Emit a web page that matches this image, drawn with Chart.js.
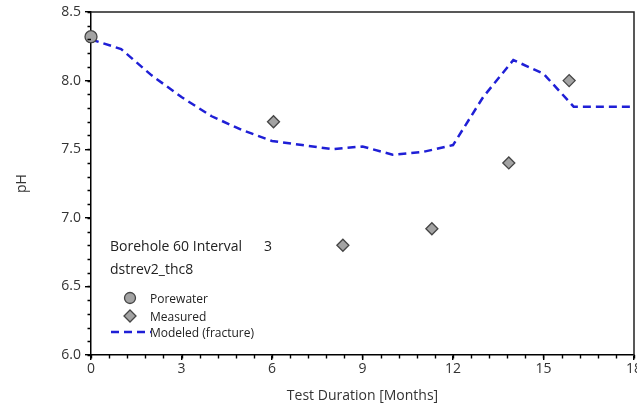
<!DOCTYPE html>
<html lang="en">
<head>
  <meta charset="UTF-8">
  <title>Borehole 60 pH</title>
  <script src="https://cdn.jsdelivr.net/npm/chart.js"></script>
  <style>
    html, body { margin: 0; padding: 0; background: #fff; }
    #wrap { width: 637px; height: 408px; }
  </style>
</head>
<body>
  <div id="wrap"><canvas id="phChart"></canvas></div>

  <script>
    // modeled (fracture) curve
    const modeledMonths = [0, 1, 2, 3, 4, 5, 6, 7, 8, 9, 10, 11, 12, 13, 14, 15, 16, 18];
    const modeledPH = [8.30, 8.23, 8.04, 7.88, 7.74, 7.64, 7.56, 7.53, 7.50, 7.52, 7.46, 7.48, 7.53, 7.88, 8.15, 8.05, 7.81, 7.81];

    // measured samples
    const measuredMonths = [6.05, 8.35, 11.3, 13.85, 15.85];
    const measuredPH = [7.70, 6.80, 6.92, 7.40, 8.00];

    // porewater
    const porewaterMonths = [0];
    const porewaterPH = [8.32];

    const xTicks = [0, 3, 6, 9, 12, 15, 18];
    const yTicks = [6.0, 6.5, 7.0, 7.5, 8.0, 8.5];

    const toPoints = (xs, ys) => xs.map((x, i) => ({ x: x, y: ys[i] }));

    const lineBlue = '#1f1fd6';
    const markFill = '#a3a3a3';
    const markEdge = '#454545';
    const font = "'Open Sans', 'DejaVu Sans', sans-serif";

    // minor ticks, frame, annotation + legend
    const extras = {
      id: 'extras',
      afterDraw(chart) {
        const ctx = chart.ctx;
        const xs = chart.scales.x, ys = chart.scales.y;
        const a = chart.chartArea;
        ctx.save();
        ctx.strokeStyle = '#000';
        ctx.lineWidth = 1.4;
        ctx.beginPath();
        for (let v = 0; v <= 18.001; v += 0.6) {
          const px = Math.round(xs.getPixelForValue(v)) + 0.5;
          ctx.moveTo(px, a.bottom);
          ctx.lineTo(px, a.bottom + 3.5);
        }
        for (let v = 6; v <= 8.501; v += 0.1) {
          const py = Math.round(ys.getPixelForValue(v)) + 0.5;
          ctx.moveTo(a.left, py);
          ctx.lineTo(a.left - 3.5, py);
        }
        ctx.stroke();

        // top and right frame
        ctx.lineWidth = 1.5;
        ctx.strokeStyle = '#222';
        ctx.beginPath();
        ctx.moveTo(a.left, a.top);
        ctx.lineTo(a.right, a.top);
        ctx.lineTo(a.right, a.bottom);
        ctx.stroke();

        // annotation
        ctx.fillStyle = '#222';
        ctx.font = '14px ' + font;
        ctx.textBaseline = 'alphabetic';
        ctx.textAlign = 'left';
        ctx.fillText('Borehole 60 Interval', 110, 251);
        ctx.fillText('3', 264, 251);
        ctx.fillText('dstrev2_thc8', 110, 274);

        // legend
        ctx.font = '12px ' + font;
        ctx.fillStyle = '#222';
        ctx.fillText('Porewater', 150, 303);
        ctx.fillText('Measured', 150, 321);
        ctx.fillText('Modeled (fracture)', 150, 337);

        ctx.fillStyle = markFill;
        ctx.strokeStyle = markEdge;
        ctx.lineWidth = 1.3;
        ctx.beginPath();
        ctx.arc(130, 298, 5.5, 0, Math.PI * 2);
        ctx.fill();
        ctx.stroke();

        ctx.beginPath();
        ctx.moveTo(130, 310);
        ctx.lineTo(136, 316);
        ctx.lineTo(130, 322);
        ctx.lineTo(124, 316);
        ctx.closePath();
        ctx.fill();
        ctx.stroke();

        ctx.strokeStyle = lineBlue;
        ctx.lineWidth = 2.5;
        ctx.setLineDash([8, 5]);
        ctx.beginPath();
        ctx.moveTo(111, 332);
        ctx.lineTo(151, 332);
        ctx.stroke();
        ctx.restore();
      }
    };

    Chart.defaults.font.family = font;
    Chart.defaults.color = '#333';

    new Chart(document.getElementById('phChart').getContext('2d'), {
      type: 'scatter',
      data: {
        datasets: [
          {
            label: 'Modeled (fracture)',
            data: toPoints(modeledMonths, modeledPH),
            showLine: true,
            borderColor: lineBlue,
            borderWidth: 2.5,
            borderDash: [8, 5],
            pointRadius: 0,
            tension: 0,
            fill: false,
            order: 3
          },
          {
            label: 'Measured',
            data: toPoints(measuredMonths, measuredPH),
            pointStyle: 'rectRot',
            pointRadius: 6,
            backgroundColor: markFill,
            borderColor: markEdge,
            borderWidth: 1.3,
            order: 1
          },
          {
            label: 'Porewater',
            data: toPoints(porewaterMonths, porewaterPH),
            pointStyle: 'circle',
            pointRadius: 6,
            backgroundColor: markFill,
            borderColor: markEdge,
            borderWidth: 1.3,
            order: 2
          }
        ]
      },
      options: {
        responsive: true,
        maintainAspectRatio: false,
        animation: false,
        clip: false,
        layout: { autoPadding: false, padding: { top: 12, right: 3, left: 0, bottom: 0 } },
        plugins: {
          legend: { display: false },
          tooltip: { enabled: false }
        },
        scales: {
          x: {
            type: 'linear',
            min: 0,
            max: 18,
            afterBuildTicks: s => { s.ticks = xTicks.map(v => ({ value: v })); },
            afterFit: s => { s.height = 53; s.paddingRight = 0; s.paddingLeft = 0; },
            grid: { drawOnChartArea: false, drawTicks: true, tickLength: 5, color: '#000', lineWidth: 1.4 },
            border: { display: true, color: '#000', width: 1.5 },
            ticks: { font: { size: 14 }, color: '#333', padding: 1, callback: v => String(v) },
            title: { display: true, text: 'Test Duration [Months]', font: { size: 14 }, color: '#333', padding: { top: 0, bottom: 4 } }
          },
          y: {
            type: 'linear',
            min: 6,
            max: 8.5,
            afterBuildTicks: s => { s.ticks = yTicks.map(v => ({ value: v })); },
            afterFit: s => { s.width = 91; s.paddingTop = 0; s.paddingBottom = 0; },
            grid: { drawOnChartArea: false, drawTicks: true, tickLength: 6, color: '#000', lineWidth: 1.4 },
            border: { display: true, color: '#000', width: 1.5 },
            ticks: { font: { size: 14 }, color: '#333', padding: 4, callback: v => Number(v).toFixed(1) },
            title: { display: true, text: 'pH', font: { size: 14 }, color: '#333', padding: { top: 14, bottom: 0 } }
          }
        }
      },
      plugins: [extras]
    });
  </script>
</body>
</html>
